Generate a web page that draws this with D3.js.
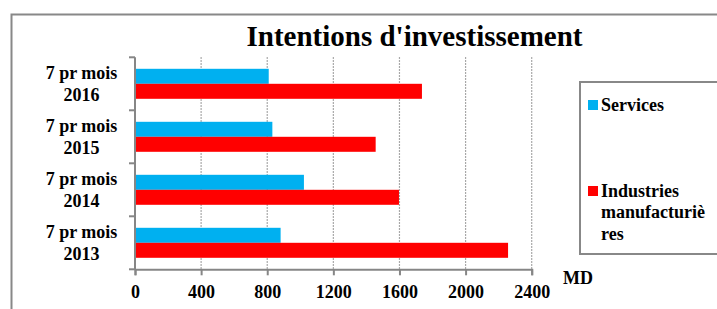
<!DOCTYPE html>
<html>
<head>
<meta charset="utf-8">
<script src="https://cdn.jsdelivr.net/npm/d3@7.9.0/dist/d3.min.js"></script>
<style>
  html, body { margin: 0; padding: 0; background: #fff; }
  svg { display: block; }
  svg text { font-family: "Liberation Serif", "Times New Roman", serif; font-weight: bold; }
</style>
</head>
<body>
<svg id="chart" width="717" height="309"></svg>
<script>
// data
const categories = ['7 pr mois 2016', '7 pr mois 2015', '7 pr mois 2014', '7 pr mois 2013'];
const seriesNames = ['Services', 'Industries manufacturières'];
const services = [809, 831, 1022, 881];
const industries = [1736, 1456, 1597, 2257];
const xTicks = [0, 400, 800, 1200, 1600, 2000, 2400];
const colors = ['#00B0F0', '#FF0000'];

const svg = d3.select('#chart');

// outer frame
svg.append('rect')
  .attr('x', 11.5).attr('y', 14.5)
  .attr('width', 720).attr('height', 310)
  .attr('fill', 'none').attr('stroke', '#888').attr('stroke-width', 2);

const plot = { left: 135, right: 531.7, top: 57.3, bottom: 269.3 };

const xScale = d3.scaleLinear().domain([0, 2400]).range([plot.left, plot.right]);
const yScale = d3.scaleBand()
  .domain(categories)
  .range([plot.top, plot.bottom])
  .paddingInner(0.434)
  .paddingOuter(0.217);
const subScale = d3.scaleBand().domain(seriesNames).range([0, yScale.bandwidth()]);

// dotted gridlines
svg.append('g')
  .selectAll('line')
  .data(xTicks.slice(1))
  .join('line')
  .attr('x1', (d) => xScale(d)).attr('x2', (d) => xScale(d))
  .attr('y1', plot.top).attr('y2', plot.bottom)
  .attr('stroke', '#8c8c8c')
  .attr('stroke-width', 1.2)
  .attr('stroke-dasharray', '1.5,1.5');

// bars
const rows = categories.map((c, i) => ({ cat: c, values: [services[i], industries[i]] }));
const groups = svg.append('g')
  .selectAll('g')
  .data(rows)
  .join('g')
  .attr('transform', (d) => `translate(0,${yScale(d.cat)})`);

groups.selectAll('rect')
  .data((d) => d.values.map((v, j) => ({ name: seriesNames[j], value: v, color: colors[j] })))
  .join('rect')
  .attr('x', xScale(0))
  .attr('y', (d) => subScale(d.name))
  .attr('width', (d) => xScale(d.value) - xScale(0))
  .attr('height', subScale.bandwidth())
  .attr('fill', (d) => d.color);

// x axis
const xAxis = svg.append('g')
  .attr('transform', `translate(0,${plot.bottom})`)
  .call(d3.axisBottom(xScale).tickValues(xTicks).tickSize(6).tickPadding(10).tickFormat(d3.format('d')));
xAxis.attr('font-family', null).attr('font-size', null);
xAxis.select('.domain').attr('stroke', '#868686').attr('stroke-width', 2);
xAxis.selectAll('.tick line').attr('stroke', '#868686').attr('stroke-width', 2);
xAxis.selectAll('.tick text')
  .attr('fill', '#000')
  .attr('font-size', 18);

// y axis (line + ticks at category boundaries)
const yAxis = svg.append('g');
yAxis.append('line')
  .attr('x1', plot.left).attr('x2', plot.left)
  .attr('y1', plot.top).attr('y2', plot.bottom)
  .attr('stroke', '#868686').attr('stroke-width', 2);
const step = yScale.step();
yAxis.selectAll('.ytick')
  .data(d3.range(categories.length + 1))
  .join('line')
  .attr('class', 'ytick')
  .attr('x1', plot.left - 6).attr('x2', plot.left)
  .attr('y1', (i) => plot.top + i * step).attr('y2', (i) => plot.top + i * step)
  .attr('stroke', '#868686').attr('stroke-width', 2);

// category labels on two lines
const labels = svg.append('g')
  .selectAll('text')
  .data(categories)
  .join('text')
  .attr('text-anchor', 'middle')
  .attr('font-size', 18)
  .attr('fill', '#000');
labels.each(function (d) {
  const parts = d.split(' ');
  const cy = yScale(d) + yScale.bandwidth() / 2;
  const t = d3.select(this);
  t.append('tspan').attr('x', 81.5).attr('y', cy - 5).text(parts.slice(0, 3).join(' '));
  t.append('tspan').attr('x', 81.5).attr('y', cy + 17).text(parts[3]);
});

// title
svg.append('text')
  .attr('x', 414.5).attr('y', 46)
  .attr('text-anchor', 'middle')
  .attr('font-size', 29)
  .text("Intentions d'investissement");

// unit
svg.append('text')
  .attr('x', 563).attr('y', 284)
  .attr('font-size', 18)
  .text('MD');

// legend
svg.append('rect')
  .attr('x', 580).attr('y', 82)
  .attr('width', 150).attr('height', 172)
  .attr('fill', '#fff').attr('stroke', '#888').attr('stroke-width', 2);

const legendItems = [
  { color: colors[0], lines: ['Services'], y: 100 },
  { color: colors[1], lines: ['Industries', 'manufacturiè', 'res'], y: 186 }
];
const leg = svg.append('g').selectAll('g').data(legendItems).join('g');
leg.append('rect')
  .attr('x', 588).attr('y', (d) => d.y)
  .attr('width', 10).attr('height', 10)
  .attr('fill', (d) => d.color);
leg.append('text')
  .attr('font-size', 18)
  .each(function (d) {
    d3.select(this).selectAll('tspan')
      .data(d.lines)
      .join('tspan')
      .attr('x', 601)
      .attr('y', (l, i) => d.y + 11 + i * 21.3)
      .text((l) => l);
  });
</script>
</body>
</html>
